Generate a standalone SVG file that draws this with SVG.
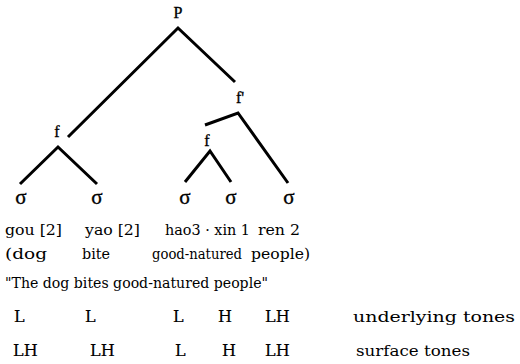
<svg xmlns="http://www.w3.org/2000/svg" width="520" height="364" viewBox="0 0 520 364">
<style>
  text { font-family: "DejaVu Serif", "Liberation Serif", serif; fill: #000; }
  .lbl { font-size: 16px; text-anchor: middle; font-family: "Liberation Serif", serif; stroke: #000; stroke-width: 0.35; }
  .sig { font-size: 21px; text-anchor: middle; font-family: "Liberation Serif", serif; stroke: #000; stroke-width: 0.35; }
  .t { font-size: 15px; }
  .tone { font-size: 16px; stroke: #000; stroke-width: 0.2; }
  .edge { fill: none; stroke: #000; stroke-width: 3; stroke-linejoin: miter; stroke-linecap: butt; }
</style>
<rect width="520" height="364" fill="#fff"/>
<g id="connectors">
  <polyline class="edge" points="68,137 178,28 235,82"/>
  <polyline class="edge" points="205,125 238,113 288,183"/>
  <polyline class="edge" points="20,184 58,147 97,184"/>
  <polyline class="edge" points="185,182 210,151 231,182"/>
</g>
<g id="node-P"><text class="lbl" x="178" y="18">P</text></g>
<g id="node-fprime"><text class="lbl" x="240" y="103">f'</text></g>
<g id="node-f-left"><text class="lbl" x="57" y="137">f</text></g>
<g id="node-f-inner"><text class="lbl" x="207" y="146">f</text></g>
<g id="node-s1"><text class="sig" x="21" y="204">σ</text></g>
<g id="node-s2"><text class="sig" x="97" y="204">σ</text></g>
<g id="node-s3"><text class="sig" x="185" y="204">σ</text></g>
<g id="node-s4"><text class="sig" x="231" y="204">σ</text></g>
<g id="node-s5"><text class="sig" x="289" y="204">σ</text></g>
<g id="words">
  <text class="t" x="5" y="235" textLength="57" lengthAdjust="spacingAndGlyphs">gou [2]</text>
  <text class="t" x="85" y="235" textLength="55" lengthAdjust="spacingAndGlyphs">yao [2]</text>
  <text class="t" x="165" y="235" textLength="85" lengthAdjust="spacingAndGlyphs">hao3 · xin 1</text>
  <text class="t" x="258" y="235" textLength="42" lengthAdjust="spacingAndGlyphs">ren 2</text>
  <text class="t" x="5" y="259" textLength="42" lengthAdjust="spacingAndGlyphs">(dog</text>
  <text class="t" x="82" y="259" textLength="28" lengthAdjust="spacingAndGlyphs">bite</text>
  <text class="t" x="152" y="259" textLength="90" lengthAdjust="spacingAndGlyphs">good-natured</text>
  <text class="t" x="251" y="259" textLength="59" lengthAdjust="spacingAndGlyphs">people)</text>
  <text class="t" x="5" y="288" textLength="263" lengthAdjust="spacingAndGlyphs">"The dog bites good-natured people"</text>
</g>
<g id="tones">
  <text class="tone" x="14" y="322">L</text>
  <text class="tone" x="85" y="322">L</text>
  <text class="tone" x="173" y="322">L</text>
  <text class="tone" x="218" y="322">H</text>
  <text class="tone" x="265" y="322">LH</text>
  <text class="t" x="353" y="322" textLength="162" lengthAdjust="spacingAndGlyphs">underlying tones</text>
  <text class="tone" x="13" y="356">LH</text>
  <text class="tone" x="90" y="356">LH</text>
  <text class="tone" x="175" y="356">L</text>
  <text class="tone" x="222" y="356">H</text>
  <text class="tone" x="265" y="356">LH</text>
  <text class="t" x="356" y="356" textLength="114" lengthAdjust="spacingAndGlyphs">surface tones</text>
</g>
</svg>
